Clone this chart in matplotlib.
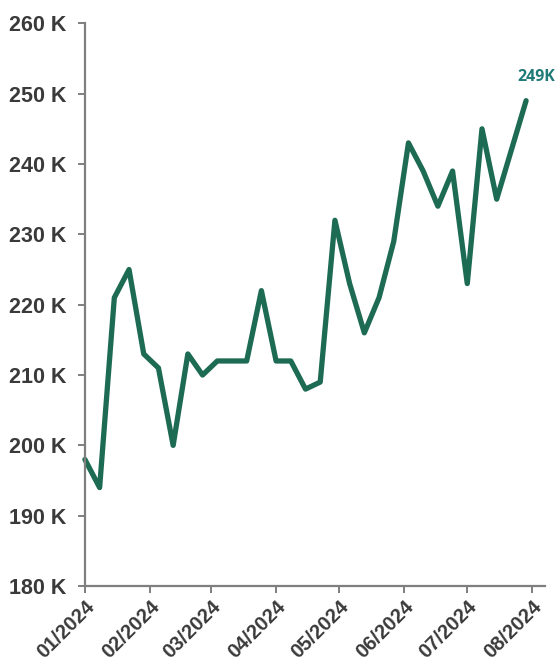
import pandas as pd
import matplotlib
matplotlib.use("Agg")
import matplotlib.pyplot as plt
import matplotlib.dates as mdates
from matplotlib.ticker import FuncFormatter

# weekly values
week_start = "2024-01-01"
n_weeks = 31
values = [198, 194, 221, 225, 213, 211, 200, 213, 210, 212, 212, 212, 222,
          212, 212, 208, 209, 232, 223, 216, 221, 229, 243, 239, 234, 239,
          223, 245, 235, 242, 249]
last_label = "249K"

dates = pd.date_range(week_start, periods=n_weeks, freq="7D")
df = pd.DataFrame({"date": dates, "value": [v * 1000 for v in values]})

plt.rcParams["font.family"] = ["Liberation Sans", "DejaVu Sans"]

fig = plt.figure(figsize=(5.55, 6.66), dpi=100)
ax = fig.add_axes([0.153, 0.12, 0.829, 0.845])

line_color = "#1e6b54"
ax.plot(df["date"], df["value"], color=line_color, linewidth=3.8,
        solid_joinstyle="round", solid_capstyle="round", clip_on=False)

# end label
ax.annotate(last_label, (df["date"].iloc[-1], df["value"].iloc[-1]),
            xytext=(-6, 11), textcoords="offset points", ha="left", va="bottom",
            color="#1f7a78", fontsize=11.5, fontweight="bold",
            family=["Open Sans", "DejaVu Sans"], annotation_clip=False)

ax.set_ylim(180000, 260000)
ax.set_yticks(range(180000, 260001, 10000))
ax.yaxis.set_major_formatter(FuncFormatter(lambda v, p: f"{int(v / 1000)} K"))

ax.set_xlim(pd.Timestamp("2024-01-01"), pd.Timestamp("2024-08-07"))
ax.xaxis.set_major_locator(mdates.MonthLocator())
ax.xaxis.set_major_formatter(mdates.DateFormatter("%m/%Y"))

for side in ["top", "right"]:
    ax.spines[side].set_visible(False)
for side in ["left", "bottom"]:
    ax.spines[side].set_color("#7f7f7f")
    ax.spines[side].set_linewidth(1.6)

ax.tick_params(axis="both", colors="#7f7f7f", length=5, width=1.4,
               labelcolor="#3a3a3a", labelsize=15.5)
ax.tick_params(axis="y", pad=8)
ax.tick_params(axis="x", labelsize=14.5, pad=3)
for lbl in ax.get_yticklabels():
    lbl.set_fontweight("bold")
for lbl in ax.get_xticklabels():
    lbl.set_fontweight("bold")
    lbl.set_rotation(45)
    lbl.set_ha("right")
    lbl.set_rotation_mode("anchor")

fig.savefig("out.png", dpi=100)
